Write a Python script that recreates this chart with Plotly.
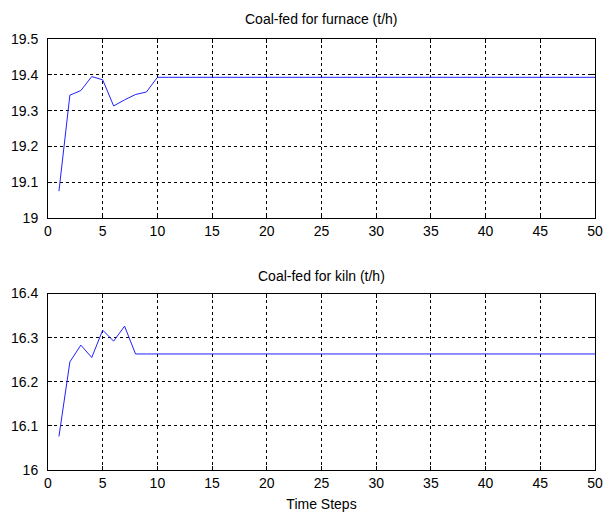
import plotly.graph_objects as go
from plotly.subplots import make_subplots

time_steps = list(range(1, 51))

furnace_coal = [19.075, 19.343, 19.356, 19.395, 19.386, 19.313, 19.330, 19.345, 19.352, 19.393,
                19.393, 19.393, 19.393, 19.393, 19.393, 19.393, 19.393, 19.393, 19.393, 19.393,
                19.393, 19.393, 19.393, 19.393, 19.393, 19.393, 19.393, 19.393, 19.393, 19.393,
                19.393, 19.393, 19.393, 19.393, 19.393, 19.393, 19.393, 19.393, 19.393, 19.393,
                19.393, 19.393, 19.393, 19.393, 19.393, 19.393, 19.393, 19.393, 19.393, 19.393]

kiln_coal = [16.076, 16.245, 16.283, 16.255, 16.317, 16.292, 16.326, 16.263, 16.263, 16.263,
             16.263, 16.263, 16.263, 16.263, 16.263, 16.263, 16.263, 16.263, 16.263, 16.263,
             16.263, 16.263, 16.263, 16.263, 16.263, 16.263, 16.263, 16.263, 16.263, 16.263,
             16.263, 16.263, 16.263, 16.263, 16.263, 16.263, 16.263, 16.263, 16.263, 16.263,
             16.263, 16.263, 16.263, 16.263, 16.263, 16.263, 16.263, 16.263, 16.263, 16.263]

titles = ["Coal-fed for furnace (t/h)", "Coal-fed for kiln (t/h)"]
x_label = "Time Steps"

FONT = "Liberation Sans, Arial, sans-serif"

fig = make_subplots(rows=2, cols=1)
fig.add_trace(go.Scatter(x=time_steps, y=furnace_coal, mode="lines",
                         line=dict(color="#2020ff", width=1), showlegend=False), row=1, col=1)
fig.add_trace(go.Scatter(x=time_steps, y=kiln_coal, mode="lines",
                         line=dict(color="#2020ff", width=1), showlegend=False), row=2, col=1)

axis_common = dict(
    showline=True, linecolor="black", linewidth=1, mirror="ticks",
    ticks="inside", ticklen=4, tickcolor="black",
    showgrid=True, gridcolor="black", gridwidth=1, griddash="3px,3px",
    zeroline=False, automargin=False,
    tickfont=dict(family=FONT, size=14, color="black"),
)

fig.update_xaxes(range=[0, 50], dtick=5, tick0=0, **axis_common)
fig.update_yaxes(ticklabelstandoff=6, **axis_common)

fig.update_layout(
    width=604, height=516,
    margin=dict(l=48, r=9, t=39, b=46, autoexpand=False),
    paper_bgcolor="white", plot_bgcolor="white",
    font=dict(family=FONT, size=14, color="black"),
    xaxis=dict(domain=[0, 1]),
    yaxis=dict(domain=[0.5847, 1], range=[19, 19.5], dtick=0.1, tick0=19),
    xaxis2=dict(domain=[0, 1], title=dict(text=x_label, standoff=9,
                                          font=dict(family=FONT, size=14, color="black"))),
    yaxis2=dict(domain=[0, 0.4095], range=[16, 16.4], dtick=0.1, tick0=16),
)

fig.add_annotation(text=titles[0], xref="paper", yref="paper", x=0.5, y=1.0,
                   yanchor="bottom", yshift=10, showarrow=False,
                   font=dict(family=FONT, size=14, color="black"))
fig.add_annotation(text=titles[1], xref="paper", yref="paper", x=0.5, y=0.4095,
                   yanchor="bottom", yshift=8, showarrow=False,
                   font=dict(family=FONT, size=14, color="black"))

fig.write_html("out.html")
